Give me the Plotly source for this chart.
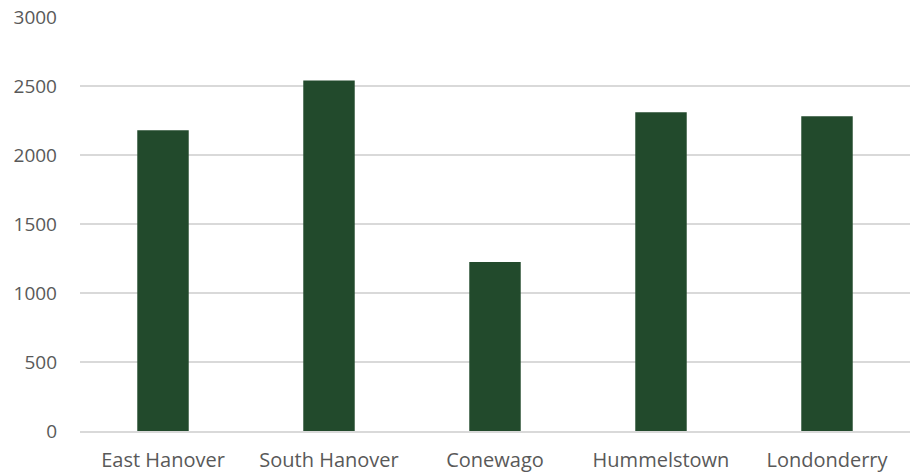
import plotly.graph_objects as go

towns = ["East Hanover", "South Hanover", "Conewago", "Hummelstown", "Londonderry"]
values = [2180, 2540, 1225, 2310, 2280]
y_ticks = [0, 500, 1000, 1500, 2000, 2500, 3000]

fig = go.Figure(
    go.Bar(
        x=towns,
        y=values,
        marker=dict(color="#224a2c", line=dict(width=0)),
        width=0.31,
    )
)

fig.update_layout(
    width=911,
    height=475,
    margin=dict(l=80, r=1, t=17, b=44),
    paper_bgcolor="white",
    plot_bgcolor="white",
    font=dict(family="Open Sans", size=19, color="#595959"),
    showlegend=False,
    bargap=0.69,
)

fig.update_xaxes(
    showgrid=False,
    showline=True,
    linecolor="#d9d9d9",
    linewidth=1.5,
    ticks="",
    ticklabelstandoff=10,
    tickfont=dict(size=20),
)

fig.update_yaxes(
    range=[0, 3000],
    tickvals=y_ticks,
    showgrid=True,
    gridcolor="#d9d9d9",
    gridwidth=1.5,
    zeroline=False,
    showline=False,
    ticks="",
    ticklabelstandoff=22,
    tickfont=dict(size=19),
)

fig.write_html("out.html")
